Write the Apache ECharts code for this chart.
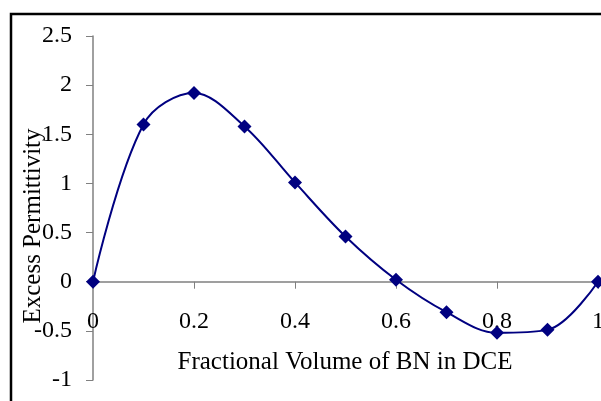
<!DOCTYPE html>
<html>
<head>
<meta charset="utf-8">
<script src="https://cdn.jsdelivr.net/npm/echarts@6/dist/echarts.min.js"></script>
<style>html,body{margin:0;padding:0;background:#fff;}#c{width:601px;height:401px;}</style>
</head>
<body>
<div id="c"></div>
<script>
var xValues = [0, 0.1, 0.2, 0.3, 0.4, 0.5, 0.6, 0.7, 0.8, 0.9, 1.0];
var yValues = [0, 1.6, 1.92, 1.58, 1.01, 0.46, 0.02, -0.31, -0.52, -0.49, 0];
var xTitle = 'Fractional Volume of BN in DCE';
var yTitle = 'Excess Permittivity';

var font = 'Liberation Serif';
var gridTop = 36, gridBottom = 21, H = 401;
var yMin = -1, yMax = 2.5;
var plotH = H - gridTop - gridBottom;
var zeroOffset = -plotH * (0 - yMin) / (yMax - yMin);

var chart = echarts.init(document.getElementById('c'));
chart.setOption({
  animation: false,
  grid: {left: 93, right: 3, top: gridTop, bottom: gridBottom, containLabel: false, outerBoundsMode: 'none'},
  xAxis: {
    type: 'value', min: 0, max: 1, interval: 0.2,
    position: 'bottom',
    offset: zeroOffset,
    axisLine: {onZero: false, lineStyle: {color: '#808080', width: 1.5}},
    axisTick: {show: true, inside: false, length: 7, lineStyle: {color: '#808080'}},
    axisLabel: {color: '#000', fontFamily: font, fontSize: 24, margin: 28, showMaxLabel: true, showMinLabel: true},
    splitLine: {show: false}
  },
  yAxis: {
    type: 'value', min: yMin, max: yMax, interval: 0.5,
    axisLine: {show: true, lineStyle: {color: '#808080', width: 1.5}},
    axisTick: {show: true, length: 7, lineStyle: {color: '#808080'}},
    axisLabel: {color: '#000', fontFamily: font, fontSize: 24, margin: 21},
    splitLine: {show: false}
  },
  graphic: [
    {type: 'rect', shape: {x: 11, y: 14, width: 620, height: 420}, style: {fill: 'none', stroke: '#000', lineWidth: 2.5}, z: 0},
    {type: 'text', x: 345, y: 362, style: {text: xTitle, font: '25px "Liberation Serif"', fill: '#000', textAlign: 'center', textVerticalAlign: 'middle'}},
    {type: 'text', x: 33, y: 226, rotation: Math.PI / 2, style: {text: yTitle, font: '25px "Liberation Serif"', fill: '#000', textAlign: 'center', textVerticalAlign: 'middle'}}
  ],
  series: [{
    type: 'line',
    data: xValues.map(function (x, i) { return [x, yValues[i]]; }),
    smooth: 0.35,
    symbol: 'diamond',
    symbolSize: 14,
    lineStyle: {color: '#000080', width: 2},
    itemStyle: {color: '#000080'},
    clip: false
  }]
});
</script>
</body>
</html>
